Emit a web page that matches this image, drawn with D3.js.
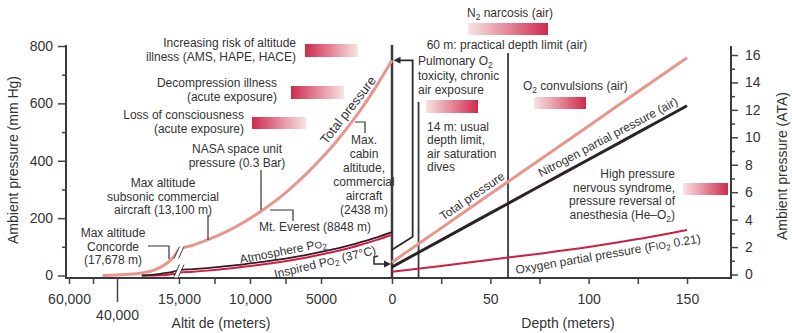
<!DOCTYPE html>
<html><head><meta charset="utf-8">
<script src="https://cdn.jsdelivr.net/npm/d3@7"></script>
<style>
body{margin:0;background:#fff;}
svg{display:block;font-family:"Liberation Sans",Arial,Helvetica,sans-serif;}
</style></head><body>
<svg id="c" width="792" height="333"></svg>
<script>
// ---------- data ----------
const altitudeM        = [0, 1000, 2000, 3000, 4000, 5000, 6000, 7000, 8000, 9000, 10000, 11000, 12000, 13000, 14000, 15000, 17500, 20000, 22500, 25000, 30000, 35000, 40000, 46000];
const totalPressureMmHg= [750, 668, 592, 524, 462, 407, 356, 310, 268, 232, 199, 170, 145, 124, 106, 90, 62, 42, 29, 19, 9, 4, 2, 0];
const atmospherePo2    = [151, 134, 119, 105, 93, 82, 72, 63, 55, 48, 42, 36, 31, 26, 22, 19, 13, 9, 6, 3, 0, 0, 0, 0];
const inspiredPo2      = [142, 125, 110, 96, 84, 73, 63, 54, 46, 39, 33, 27, 22, 17, 13, 10, 5, 2, 1, 0.3, 0, 0, 0, 0];

const depthM           = [0, 25, 50, 75, 100, 125, 150];
const depthTotalATA    = [0.9, 3.38, 5.87, 8.35, 10.83, 13.32, 15.8];
const depthN2ATA       = [0.55, 2.51, 4.47, 6.43, 8.38, 10.34, 12.3];
const depthO2ATA       = [0.2, 0.62, 1.08, 1.52, 2.0, 2.58, 3.25];

const mmHgTicks        = [0, 200, 400, 600, 800];
const mmHgMinorTicks   = [100, 300, 500, 700];
const ataTicks         = [0, 2, 4, 6, 8, 10, 12, 14, 16];
const ataMinorTicks    = [1, 3, 5, 7, 9, 11, 13, 15];
const altitudeTicks    = [60000, 15000, 10000, 5000, 0];
const altitudeTickLabels = ["60,000", "15,000", "10,000", "5000", "0"];
const altitudeMinorTicks = [50000, 12500, 7500];
const altitudeLongTick = [40000];
const altitudeLongTickLabels = ["40,000"];
const depthTicks       = [50, 100, 150];
const depthMinorTicks  = [25, 75, 125];
const depthLimitLines  = [13.5, 59];   // 14 m and 60 m lines as drawn

// ---------- scales ----------
const svg = d3.select("#c");
const xAlt   = d3.scaleLinear().domain([60000, 40000, 15000, 0]).range([69, 117, 179, 392]);
const xDepth = d3.scaleLinear().domain([0, 150]).range([392, 687]);
const yP     = d3.scaleLinear().domain([0, 800]).range([275.5, 46]);
const yA     = d3.scaleLinear().domain([0, 16]).range([274.5, 55]);

const INK = "#333", PINK = "#e8958d", RED = "#cc1f45", DARK = "#2b2326";

// gradients
const defs = svg.append("defs");
function grad(id, c0, c1) {
  const g = defs.append("linearGradient").attr("id", id).attr("x1", "0%").attr("x2", "100%");
  g.append("stop").attr("offset", "0%").attr("stop-color", c0);
  g.append("stop").attr("offset", "100%").attr("stop-color", c1);
}
grad("dl", "#cf2a4c", "#f8e4e4");
grad("ld", "#f8e4e4", "#cf2a4c");

// ---------- axes ----------
function styleAxis(g) {
  g.select(".domain").remove();
  g.selectAll(".tick line").attr("stroke", "#444").attr("stroke-width", 1.5);
  g.selectAll(".tick text").attr("font-size", 14).attr("fill", INK).attr("font-family", "Liberation Sans, Arial, sans-serif");
}
svg.append("g").attr("transform", "translate(66,0)")
  .call(d3.axisLeft(yP).tickValues(mmHgTicks).tickSize(8).tickPadding(5)).call(styleAxis);
svg.append("g").attr("transform", "translate(66,0)")
  .call(d3.axisLeft(yP).tickValues(mmHgMinorTicks).tickSize(4).tickFormat("")).call(styleAxis);
svg.append("g").attr("transform", "translate(731,0)")
  .call(d3.axisRight(yA).tickValues(ataTicks).tickSize(7).tickPadding(7)).call(styleAxis);
svg.append("g").attr("transform", "translate(731,0)")
  .call(d3.axisRight(yA).tickValues(ataMinorTicks).tickSize(4).tickFormat("")).call(styleAxis);

const XAXY = 278;
svg.append("g").attr("transform", `translate(0,${XAXY})`)
  .call(d3.axisBottom(xAlt).tickValues(altitudeTicks).tickSize(6).tickPadding(10)
    .tickFormat((d, i) => altitudeTickLabels[i])).call(styleAxis);
svg.append("g").attr("transform", `translate(0,${XAXY})`)
  .call(d3.axisBottom(xAlt).tickValues(altitudeMinorTicks).tickSize(6).tickFormat("")).call(styleAxis);
svg.append("g").attr("transform", `translate(0,${XAXY})`)
  .call(d3.axisBottom(xAlt).tickValues(altitudeLongTick).tickSize(24).tickPadding(8)
    .tickFormat((d, i) => altitudeLongTickLabels[i])).call(styleAxis);
svg.append("g").attr("transform", `translate(0,${XAXY})`)
  .call(d3.axisBottom(xDepth).tickValues(depthTicks).tickSize(6).tickPadding(10)).call(styleAxis);
svg.append("g").attr("transform", `translate(0,${XAXY})`)
  .call(d3.axisBottom(xDepth).tickValues(depthMinorTicks).tickSize(6).tickFormat("")).call(styleAxis);

// frame lines
const frame = svg.append("g").attr("stroke", "#3a3a3a").attr("stroke-width", 2).attr("fill", "none");
frame.append("line").attr("x1", 66).attr("x2", 66).attr("y1", 45).attr("y2", XAXY + 1);
frame.append("line").attr("x1", 731).attr("x2", 731).attr("y1", 46).attr("y2", XAXY + 1);
frame.append("line").attr("x1", 65).attr("x2", 732).attr("y1", XAXY).attr("y2", XAXY);
frame.append("line").attr("x1", xDepth(0)).attr("x2", xDepth(0)).attr("y1", 45).attr("y2", XAXY).attr("stroke-width", 2.5);
frame.append("line").attr("x1", xDepth(depthLimitLines[0])).attr("x2", xDepth(depthLimitLines[0])).attr("y1", 102).attr("y2", XAXY).attr("stroke-width", 1.8);
frame.append("line").attr("x1", xDepth(depthLimitLines[1])).attr("x2", xDepth(depthLimitLines[1])).attr("y1", 53).attr("y2", XAXY).attr("stroke-width", 1.8);

// axis titles
const T = svg.append("g").attr("fill", INK);
T.append("text").attr("transform", "translate(18,160) rotate(-90)").attr("text-anchor", "middle").attr("font-size", 14).text("Ambient pressure (mm Hg)");
T.append("text").attr("transform", "translate(787,166) rotate(-90)").attr("text-anchor", "middle").attr("font-size", 14).text("Ambient pressure (ATA)");
T.append("text").attr("x", 221).attr("y", 328).attr("text-anchor", "middle").attr("font-size", 14).text("Altit de (meters)");
T.append("text").attr("x", 568).attr("y", 328).attr("text-anchor", "middle").attr("font-size", 14).text("Depth (meters)");

// ---------- curves ----------
const altPts = (vals) => altitudeM.map((a, i) => [xAlt(a), yP(vals[i])]).sort((p, q) => p[0] - q[0]);
const lineGen = d3.line().curve(d3.curveMonotoneX);
svg.append("path").attr("d", lineGen(altPts(totalPressureMmHg))).attr("fill", "none").attr("stroke", PINK).attr("stroke-width", 3);
function trimmed(vals) {
  const pts = altPts(vals);
  let k = pts.findIndex(p => p[1] < yP(0) - 0.01);
  return pts.slice(Math.max(0, k - 1));
}
svg.append("path").attr("d", lineGen(trimmed(inspiredPo2))).attr("fill", "none").attr("stroke", RED).attr("stroke-width", 2);
svg.append("path").attr("d", lineGen(trimmed(atmospherePo2))).attr("fill", "none").attr("stroke", "#3a1822").attr("stroke-width", 1.8);

const depthLine = d3.line().x((d, i) => xDepth(depthM[i])).y(d => yA(d)).curve(d3.curveMonotoneX);
svg.append("path").attr("d", depthLine(depthTotalATA)).attr("fill", "none").attr("stroke", PINK).attr("stroke-width", 3);
svg.append("path").attr("d", depthLine(depthN2ATA)).attr("fill", "none").attr("stroke", DARK).attr("stroke-width", 3);
svg.append("path").attr("d", depthLine(depthO2ATA)).attr("fill", "none").attr("stroke", RED).attr("stroke-width", 2);

// axis break marks on the altitude curves at 15,000 m
function breakMark(cx, cy) {
  const g = svg.append("g");
  g.append("polygon").attr("points", `${cx - 5},${cy + 7} ${cx + 1},${cy - 7} ${cx + 5},${cy - 7} ${cx - 1},${cy + 7}`).attr("fill", "#fff");
  g.append("line").attr("x1", cx - 5).attr("y1", cy + 6).attr("x2", cx + 0.5).attr("y2", cy - 6).attr("stroke", "#444").attr("stroke-width", 1);
  g.append("line").attr("x1", cx - 0.5).attr("y1", cy + 6).attr("x2", cx + 5).attr("y2", cy - 6).attr("stroke", "#444").attr("stroke-width", 1);
}
breakMark(xAlt(15000), yP(80));
breakMark(xAlt(15000), yP(17));

// ---------- pointers & arrows ----------
const P = svg.append("g").attr("fill", "none").attr("stroke", INK).attr("stroke-width", 1.2);
const pl = (pts) => P.append("polyline").attr("points", pts.map(p => p.join(",")).join(" "));
pl([[261, 170], [261, 210]]);                 // NASA
pl([[270, 210], [293, 210], [293, 221]]);     // Everest
pl([[208, 215], [208, 240]]);                 // subsonic
pl([[148, 246], [169, 246], [169, 259]]);     // Concorde
pl([[355, 122], [365, 122], [365, 133]]);     // cabin altitude
const A = svg.append("g").attr("fill", "none").attr("stroke", "#2a2a2a").attr("stroke-width", 1.8);
const ax = xDepth(10.5);
A.append("polyline").attr("points", `${xDepth(0) + 6},${yP(750)} ${ax},${yP(750)} ${ax},${yA(2.75)} ${xDepth(0)},${yA(1.8)}`);
svg.append("path").attr("d", `M${xDepth(0) + 1.5},${yP(750)} l7,-3.5 l0,7 z`).attr("fill", "#2a2a2a");
A.append("polyline").attr("stroke-width", 1.5).attr("points", `378,256 374,257 374,264 ${xDepth(0) - 6},264`);
svg.append("path").attr("d", `M${xDepth(0) - 1},264 l-7,-3.5 l0,7 z`).attr("fill", "#2a2a2a");

// ---------- gradient bars ----------
const bars = [
  {x: 305, y: 44, w: 53, h: 13, g: "dl"},
  {x: 291, y: 86, w: 53, h: 13, g: "dl"},
  {x: 252, y: 117, w: 54, h: 12, g: "dl"},
  {x: 468, y: 23, w: 80, h: 12, g: "ld"},
  {x: 426, y: 100, w: 52, h: 13, g: "ld"},
  {x: 534, y: 97, w: 52, h: 12, g: "ld"},
  {x: 683, y: 183, w: 45, h: 12, g: "ld"}
];
svg.selectAll("rect.bar").data(bars).join("rect").attr("class", "bar")
  .attr("x", d => d.x).attr("y", d => d.y).attr("width", d => d.w).attr("height", d => d.h)
  .attr("fill", d => `url(#${d.g})`);

// ---------- text annotations ----------
function rich(textSel, str, size) {
  const parts = str.split(/(_.|\^.)/).filter(s => s !== "");
  let shift = 0;
  parts.forEach(p => {
    if (p[0] === "_" && p.length === 2) {
      textSel.append("tspan").attr("font-size", size * 0.7).attr("dy", 2.5 - shift).text(p[1]); shift = 2.5;
    } else if (p[0] === "^" && p.length === 2) {
      textSel.append("tspan").attr("font-size", size * 0.8).attr("dy", -shift).text(p[1]); shift = 0;
    } else {
      textSel.append("tspan").attr("dy", -shift).text(p); shift = 0;
    }
  });
}
function block(lines, x, y0, anchor, lh = 14, size = 12) {
  lines.forEach((s, i) => {
    const t = svg.append("text").attr("x", x).attr("y", y0 + i * lh).attr("text-anchor", anchor)
      .attr("font-size", size).attr("fill", INK);
    rich(t, s, size);
  });
}
block(["Increasing risk of altitude", "illness (AMS, HAPE, HACE)"], 296, 47, "end");
block(["Decompression illness", "(acute exposure)"], 277, 87, "end");
block(["Loss of consciousness", "(acute exposure)"], 244, 119, "end", 13.5);
block(["NASA space unit", "pressure (0.3 Bar)"], 237, 153, "middle");
block(["Max altitude", "subsonic commercial", "aircraft (13,100 m)"], 163, 187, "middle", 13.5);
block(["Max altitude", "Concorde", "(17,678 m)"], 113, 237, "middle", 13.5);
block(["Mt. Everest (8848 m)"], 315, 231, "middle");
block(["Max.", "cabin", "altitude,", "commercial", "aircraft", "(2438 m)"], 364, 144, "middle");
block(["N_2 narcosis (air)"], 510, 17, "middle");
block(["60 m: practical depth limit (air)"], 507, 49, "middle");
block(["Pulmonary O_2"], 418, 65, "start");
block(["toxicity, chronic", "air exposure"], 418, 80, "start", 13.5);
block(["14 m: usual", "depth limit,", "air saturation", "dives"], 427, 131, "start", 13.4);
block(["O_2 convulsions (air)"], 523, 90, "start");
block(["High pressure", "nervous syndrome,", "pressure reversal of", "anesthesia (He–O_2)"], 675, 178, "end", 13.7);

function rotated(str, cx, cy, ang, size) {
  const t = svg.append("text").attr("transform", `translate(${cx},${cy}) rotate(${ang})`)
    .attr("text-anchor", "middle").attr("font-size", size).attr("fill", INK).attr("y", size * 0.35);
  rich(t, str, size);
}
rotated("Total pressure", 348, 110, -52, 13);
rotated("Total pressure", 472, 196, -34.5, 12);
rotated("Nitrogen partial pressure (air)", 608, 137, -28, 12);
rotated("Oxygen partial pressure (F^I^O_2 0.21)", 608, 254, -9.7, 12);
rotated("Atmosphere P^O_2", 283, 251, -11, 12);
rotated("Inspired P^O_2 (37°C)", 325, 262, -13.5, 12);
</script>
</body></html>
